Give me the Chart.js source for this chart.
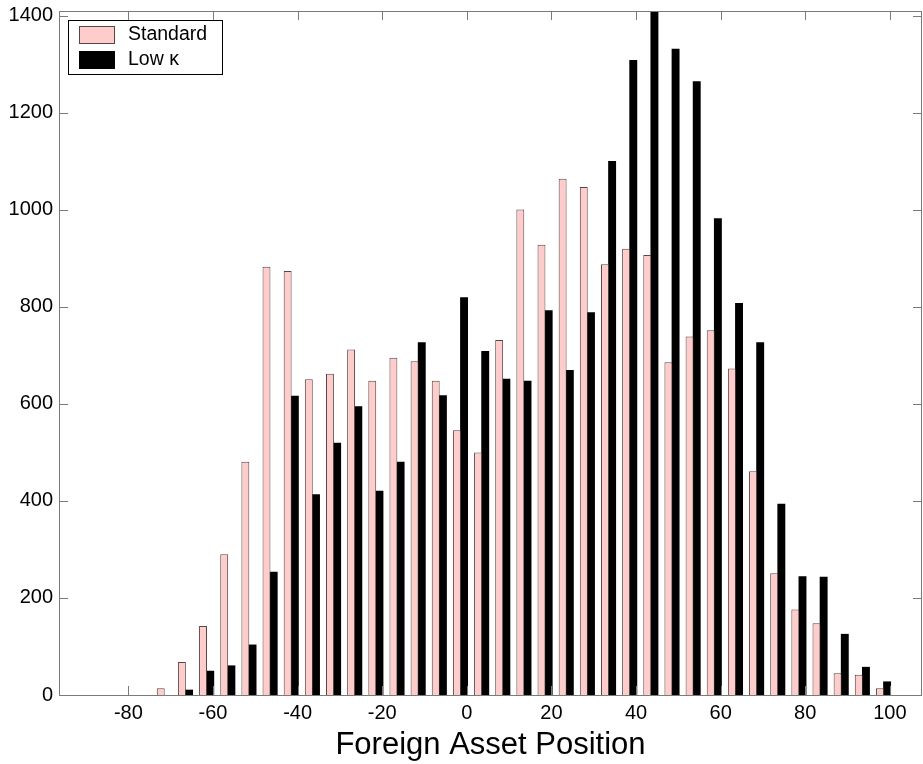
<!DOCTYPE html>
<html>
<head>
<meta charset="utf-8">
<title>Foreign Asset Position</title>
<script src="https://cdn.jsdelivr.net/npm/chart.js@4.4.0/dist/chart.umd.min.js"></script>
<style>
    html, body { margin: 0; padding: 0; background: #fff; }
    #wrap { width: 923px; height: 764px; position: relative; }
</style>
</head>
<body>
<div id="wrap"><canvas id="histChart"></canvas></div>
<script>
// histogram bins (centre of each bin)
const binCenters = [-71.5, -66.5, -61.5, -56.5, -51.5, -46.5, -41.5, -36.5, -31.5, -26.5,
    -21.5, -16.5, -11.5, -6.5, -1.5, 3.5, 8.5, 13.5, 18.5, 23.5,
    28.5, 33.5, 38.5, 43.5, 48.5, 53.5, 58.5, 63.5, 68.5, 73.5,
    78.5, 83.5, 88.5, 93.5, 98.5];

const standardCounts = [14, 68, 142, 290, 481, 883, 874, 651, 662, 712,
    648, 695, 688, 648, 546, 500, 732, 1001, 928, 1064,
    1047, 888, 920, 907, 686, 739, 752, 673, 461, 251,
    176, 148, 45, 42, 14];

const lowKappaCounts = [0, 11, 50, 61, 104, 254, 617, 414, 520, 595,
    421, 481, 727, 618, 820, 709, 652, 648, 793, 670,
    789, 1101, 1309, 1415, 1332, 1265, 983, 808, 727, 394,
    245, 244, 126, 58, 28];

const seriesLabels = ['Standard', 'Low \u03BA'];
const xTickValues = [-80, -60, -40, -20, 0, 20, 40, 60, 80, 100];
const yTickValues = [0, 200, 400, 600, 800, 1000, 1200, 1400];

const FONT = "'Liberation Sans', Arial, Helvetica, sans-serif";

// box round the plot with matlab style inward ticks
const frameTicks = {
    id: 'frameTicks',
    afterDatasetsDraw(chart) {
        const { ctx, chartArea: a, scales: { x, y } } = chart;
        const len = 9;
        ctx.save();
        ctx.strokeStyle = '#7a7a7a';
        ctx.lineWidth = 1;
        ctx.strokeRect(a.left + 0.5, a.top + 0.5, a.right - a.left - 1, a.bottom - a.top);
        ctx.beginPath();
        xTickValues.forEach(v => {
            const px = Math.round(x.getPixelForValue(v)) + 0.5;
            ctx.moveTo(px, a.bottom);
            ctx.lineTo(px, a.bottom - len);
            ctx.moveTo(px, a.top);
            ctx.lineTo(px, a.top + len);
        });
        yTickValues.forEach(v => {
            const py = Math.round(y.getPixelForValue(v)) + 0.5;
            ctx.moveTo(a.left, py);
            ctx.lineTo(a.left + len, py);
            ctx.moveTo(a.right, py);
            ctx.lineTo(a.right - len, py);
        });
        ctx.stroke();
        ctx.restore();
    }
};

// legend drawn as a boxed panel in the upper left corner
const boxLegend = {
    id: 'boxLegend',
    afterDraw(chart) {
        const { ctx, chartArea: a } = chart;
        const left = a.left + 9;
        const top = a.top + 9;
        ctx.save();
        ctx.fillStyle = '#fff';
        ctx.fillRect(left, top, 154, 54);
        ctx.strokeStyle = '#000';
        ctx.lineWidth = 1;
        ctx.strokeRect(left + 0.5, top + 0.5, 154, 54);
        ctx.font = `19.5px ${FONT}`;
        ctx.textBaseline = 'middle';
        chart.data.datasets.forEach((ds, i) => {
            const rowY = top + 6 + i * 25;
            ctx.fillStyle = ds.backgroundColor;
            ctx.fillRect(left + 11, rowY, 36, 18);
            if (ds.borderWidth) {
                ctx.strokeStyle = ds.borderColor;
                ctx.strokeRect(left + 11.5, rowY + 0.5, 35, 17);
            }
            ctx.fillStyle = '#000';
            ctx.fillText(ds.label, left + 60, rowY + 9);
        });
        ctx.restore();
    }
};

const ctx = document.getElementById('histChart');
new Chart(ctx, {
    type: 'bar',
    data: {
        datasets: [
            {
                label: seriesLabels[0],
                data: binCenters.map((x, i) => ({ x, y: standardCounts[i] })),
                backgroundColor: '#ffcccc',
                borderColor: '#5a4545',
                borderWidth: 1,
                clip: 0
            },
            {
                label: seriesLabels[1],
                data: binCenters.map((x, i) => ({ x, y: lowKappaCounts[i] })),
                backgroundColor: '#000000',
                borderWidth: 0,
                clip: 0
            }
        ]
    },
    options: {
        responsive: true,
        maintainAspectRatio: false,
        animation: false,
        events: [],
        layout: { padding: { top: 11, right: 1, left: 0, bottom: 0 } },
        datasets: {
            bar: { categoryPercentage: 0.68, barPercentage: 1.1 }
        },
        plugins: {
            legend: { display: false },
            tooltip: { enabled: false }
        },
        scales: {
            x: {
                type: 'linear',
                min: -96.4,
                max: 107.6,
                offset: false,
                grid: { display: false, drawTicks: false, offset: false },
                border: { display: false },
                afterBuildTicks: (scale) => {
                    scale.ticks = xTickValues.map(v => ({ value: v }));
                },
                afterFit: (scale) => {
                    scale.height = 69;
                    scale.paddingLeft = 0;
                    scale.paddingRight = 0;
                },
                ticks: {
                    font: { family: FONT, size: 20 },
                    color: '#000',
                    padding: 6,
                    maxRotation: 0,
                    autoSkip: false,
                    callback: (v) => String(v)
                },
                title: {
                    display: true,
                    text: 'Foreign Asset Position',
                    font: { family: FONT, size: 31 },
                    color: '#000',
                    padding: { top: 0, bottom: 0 }
                }
            },
            y: {
                min: 0,
                max: 1410,
                grid: { display: false, drawTicks: false },
                border: { display: false },
                afterBuildTicks: (scale) => {
                    scale.ticks = yTickValues.map(v => ({ value: v }));
                },
                afterFit: (scale) => {
                    scale.width = 59;
                    scale.paddingTop = 0;
                    scale.paddingBottom = 0;
                },
                ticks: {
                    font: { family: FONT, size: 20 },
                    color: '#000',
                    padding: 6,
                    callback: (v) => String(v)
                }
            }
        }
    },
    plugins: [frameTicks, boxLegend]
});
</script>
</body>
</html>
